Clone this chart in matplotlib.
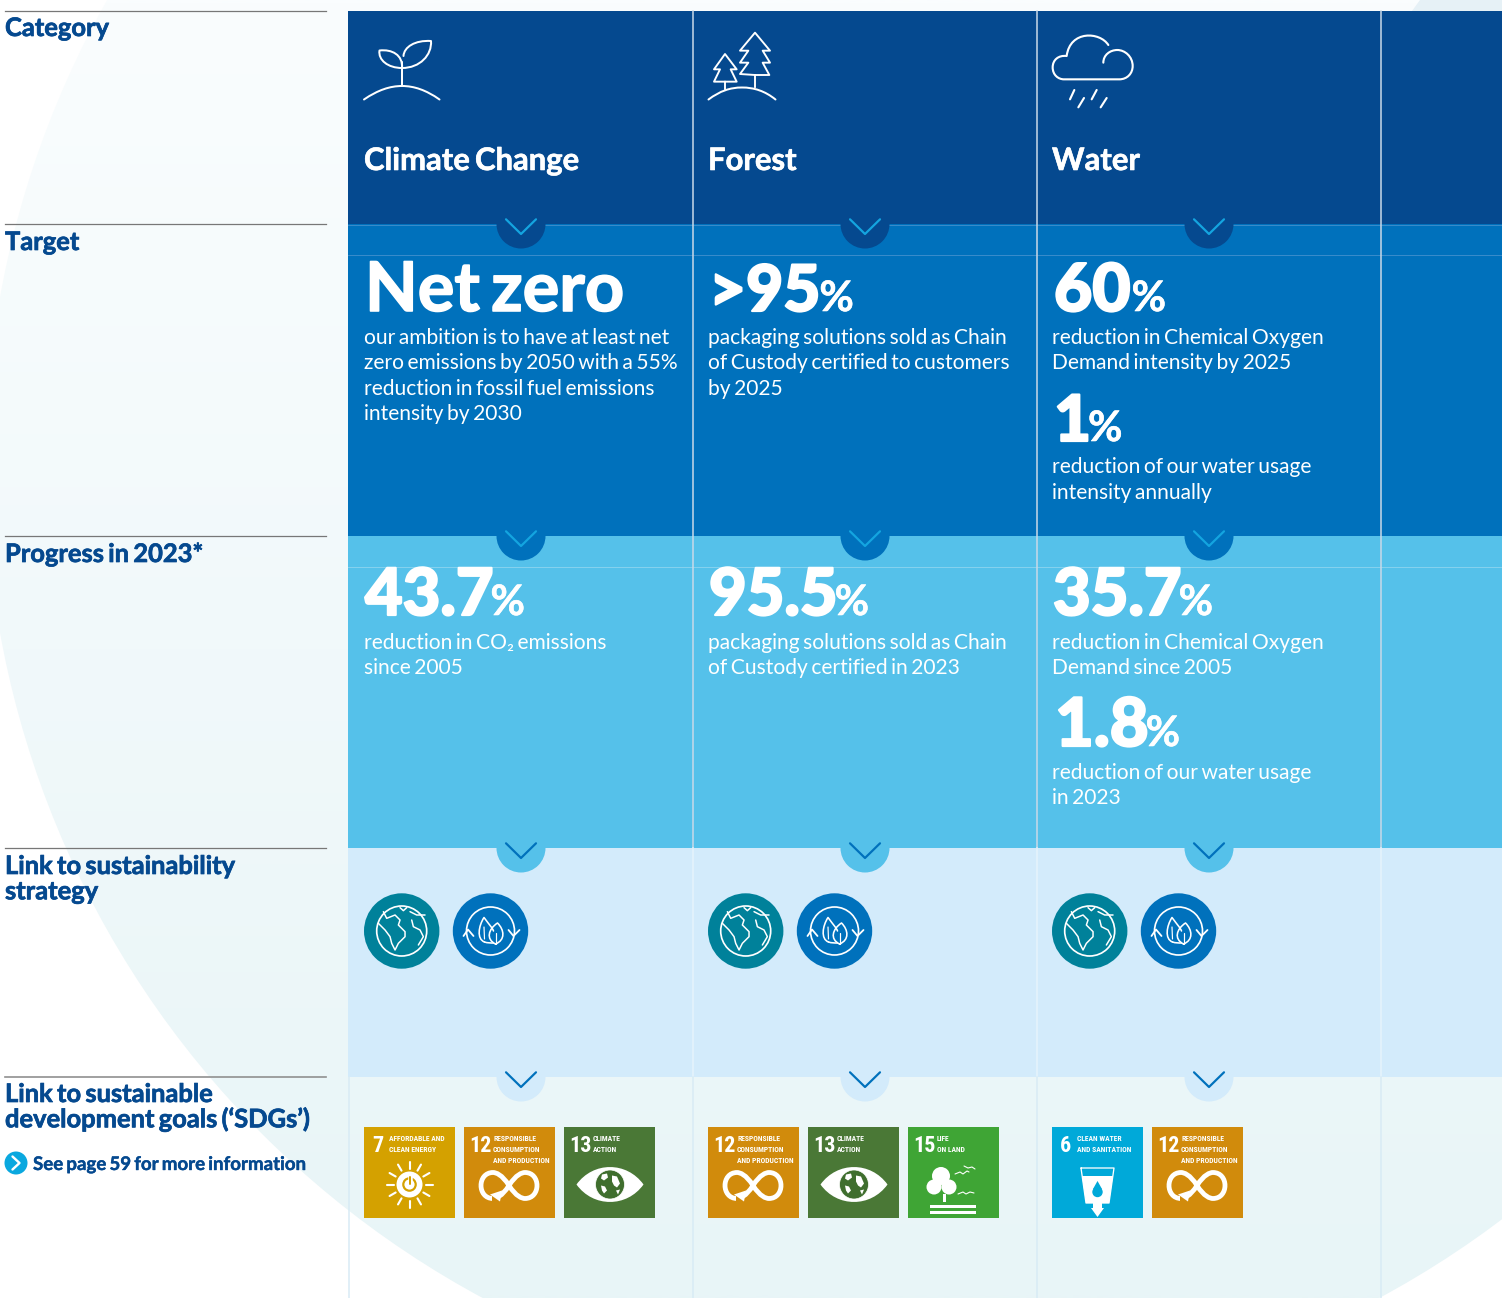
import numpy as np
import matplotlib
matplotlib.use('Agg')
import matplotlib.pyplot as plt
import matplotlib.patheffects as pe
from matplotlib.path import Path
from matplotlib.patches import Circle, PathPatch, Rectangle, Polygon, Wedge

#---CONTENT---
row_labels = ['Category', 'Target', 'Progress in 2023*', 'Link to sustainability\nstrategy', 'Link to sustainable\ndevelopment goals (‘SDGs’)']
see_page = 'See page 59 for more information'
categories = ['Climate Change', 'Forest', 'Water']
target_big = ['Net zero', '>95', '60']
target_text = [['our ambition is to have at least net', 'zero emissions by 2050 with a 55%', 'reduction in fossil fuel emissions', 'intensity by 2030'],
	['packaging solutions sold as Chain', 'of Custody certified to customers', 'by 2025'],
	['reduction in Chemical Oxygen', 'Demand intensity by 2025']]
target2_big = '1'
target2_text = ['reduction of our water usage', 'intensity annually']
progress_big = ['43.7', '95.5', '35.7']
progress_text = [['reduction in CO₂ emissions', 'since 2005'],
	['packaging solutions sold as Chain', 'of Custody certified in 2023'],
	['reduction in Chemical Oxygen', 'Demand since 2005']]
progress2_big = '1.8'
progress2_text = ['reduction of our water usage', 'in 2023']
sdg_numbers = [['7', '12', '13'], ['12', '13', '15'], ['6', '12']]
sdg_names = {'7': ['AFFORDABLE AND', 'CLEAN ENERGY'],
	'12': ['RESPONSIBLE', 'CONSUMPTION', 'AND PRODUCTION'],
	'13': ['CLIMATE', 'ACTION'],
	'15': ['LIFE', 'ON LAND'],
	'6': ['CLEAN WATER', 'AND SANITATION']}

#---COLOURS---
navy = '#05498f'
blue = '#0071bc'
sky = '#55c1ea'
pale = '#d3ebfb'
teal = '#00819a'
sdg_colors = {'7': '#d4a100', '12': '#d18b0c', '13': '#4a7836', '15': '#3fa535', '6': '#00a9d9'}

MAIN = ['Lato', 'Noto Sans', 'DejaVu Sans']
NARROW = ['Roboto Condensed', 'Liberation Sans Narrow', 'Roboto', 'DejaVu Sans']

#---PREPARE FIGURE--- (axes units are image pixels)
fig = plt.figure(figsize=(15.02, 12.98), dpi=100)
ax = fig.add_axes([0, 0, 1, 1])
ax.set_xlim(0, 1502)
ax.set_ylim(1298, 0)
ax.axis('off')

def pts(px):
	return px * 0.72

def tight(s):
	#the report's font sets its words close together, so use a narrow space
	return s.replace(' ', '\u2006')

def heavier(color, px):
	return [pe.withStroke(linewidth=pts(px), foreground=color)]

def stroke(verts, codes=None, color='white', lw=2, z=6, fill=None):
	#draw an icon path, verts are in pixels
	if codes is None:
		codes = [Path.MOVETO] + [Path.LINETO] * (len(verts) - 1)
	patch = PathPatch(Path(verts, codes), facecolor=fill if fill else 'none', edgecolor=color if lw else 'none',
		linewidth=pts(lw), capstyle='round', joinstyle='round', zorder=z)
	ax.add_patch(patch)
	return patch

M, L, C = Path.MOVETO, Path.LINETO, Path.CURVE4
def curve(*segs):
	#segs: first is the start point, then 3 point beziers or single points for a line
	v, c = [segs[0]], [M]
	for s in segs[1:]:
		if isinstance(s[0], tuple):
			v += list(s)
			c += [C, C, C]
		else:
			v.append(s)
			c.append(L)
	return v, c

#---BACKGROUND---
grad = np.linspace(0, 1, 256).reshape(-1, 1)
c0 = np.array(matplotlib.colors.to_rgb('#fafdfe'))
c1 = np.array(matplotlib.colors.to_rgb('#e8f5f7'))
img = c0 + (c1 - c0) * grad[:, :, None]
im = ax.imshow(img, extent=(0, 1502, 1298, 0), aspect='auto', zorder=0, interpolation='bilinear')
big_circle = Circle((931, 465), 946, transform=ax.transData)
im.set_clip_path(big_circle)
ax.set_xlim(0, 1502)
ax.set_ylim(1298, 0)
ax.add_patch(Polygon([(1412, 11), (1420, 0), (1502, 0), (1502, 11)], facecolor='#e6f1f6', edgecolor='none', zorder=0.5))

#---ROW BANDS---
band_y = [11, 224, 536, 848, 1077]
band_colors = [navy, blue, sky, pale]
for i in range(4):
	ax.add_patch(Rectangle((348, band_y[i]), 1502 - 348, band_y[i + 1] - band_y[i], facecolor=band_colors[i], edgecolor='none', zorder=1))

#thin lines inside the bands
ax.plot([348, 1502], [224.5, 224.5], color='#3a8ccb', lw=0.7, zorder=2)
ax.plot([348, 1502], [254.5, 254.5], color='#3a8ccb', lw=0.7, zorder=2)
ax.plot([348, 1502], [566.5, 566.5], color='#86d2ef', lw=0.7, zorder=2)

#column dividers
for x in [692.5, 1036.5, 1380.5]:
	ax.plot([x, x], [11, 848], color='#c9d9e8', lw=1.1, zorder=2)
	ax.plot([x, x], [848, 1077], color='#e6f3fb', lw=1.1, zorder=2)
	ax.plot([x, x], [1077, 1298], color='#d8ebf5', lw=1.1, zorder=2)
ax.plot([348.5, 348.5], [1077, 1298], color='#d8ebf5', lw=1.1, zorder=2)

#chevron bumps
col_x = [364, 708, 1052]
bump_x = [521, 865, 1209]
chev_colors = ['#14a5e0', '#14a5e0', blue, blue]
bump_colors = [navy, blue, sky, pale]
for i, y in enumerate(band_y[1:]):
	for bx in bump_x:
		ax.add_patch(Wedge((bx, y), 24.5, 0, 180, facecolor=bump_colors[i], edgecolor='none', zorder=3))
		stroke([(bx - 15, y - 4.7), (bx, y + 10), (bx + 15, y - 4.7)], color=chev_colors[i], lw=2.2, z=4)

#---LEFT COLUMN---
for i, y in enumerate(band_y):
	ax.plot([5, 326], [y, y], color='#777777' if i < 4 else '#909090', lw=0.9 if i < 4 else 1.2, zorder=3)
label_base = [36, 250, 562, 874, 1102]
for lab, y in zip(row_labels, label_base):
	for k, line in enumerate(lab.split('\n')):
		ax.text(5, y + k * 25.3, tight(line), family=MAIN, weight='bold', fontsize=pts(25.5), color=navy, va='baseline', ha='left', zorder=5,
			path_effects=heavier(navy, 0.7))
ax.add_patch(Circle((16, 1163), 11.5, facecolor='#0aa8df', edgecolor='none', zorder=5))
stroke([(12.5, 1156.5), (19.5, 1163), (12.5, 1169.5)], lw=2.4)
ax.text(33, 1170, tight(see_page), family=MAIN, weight='bold', fontsize=pts(18.7), color=navy, va='baseline', zorder=5,
	path_effects=heavier(navy, 0.4))

#---CATEGORY TITLES AND ICONS---
for x, name in zip(col_x, categories):
	ax.text(x, 170, tight(name), family=MAIN, weight='bold', fontsize=pts(31), color='white', va='baseline', zorder=5,
		path_effects=heavier('white', 0.6))

#sprout
v, c = curve((364, 99.5), ((378, 90), (390, 86), (402, 86)), ((414, 86), (426, 90), (439.5, 99.5)))
stroke(v, c)
stroke([(402, 86), (402, 62)])
v, c = curve((402, 68), ((388, 68), (378, 60), (379.5, 50.5)), ((392, 49), (403, 55), (402, 68)))
stroke(v, c)
v, c = curve((402, 68), ((420, 68), (432, 55), (431, 41)), ((415, 40), (404, 47), (403.5, 56)))
stroke(v, c)

#trees
v, c = curve((708.5, 99.5), ((720, 91), (730, 87.5), (742, 87.5)), ((754, 87.5), (765, 91), (775.5, 99.5)))
stroke(v, c)
big_tree = np.array([(1245, 262), (1245, 225), (1288, 225), (1268, 188), (1290, 188), (1268, 152), (1290, 152), (1245, 98), (1200, 152), (1225, 152), (1200, 188), (1225, 188), (1200, 222), (1245, 225)]) / 3 + [340, 0]
stroke(big_tree, lw=1.9)
small_tree = np.array([(1155, 268), (1155, 245), (1190, 245), (1172, 208), (1190, 208), (1155, 162), (1122, 208), (1140, 208), (1122, 245), (1155, 245)]) / 3 + [340, 0]
stroke(small_tree, lw=1.9)

#cloud
cl = [(205, 75), ((180, 35), (90, 30), (80, 108)), ((55, 105), (38, 120), (38, 142)), ((38, 165), (55, 178), (72, 178)), (238, 178),
	((262, 178), (278, 160), (278, 138)), ((278, 110), (255, 90), (232, 90)), ((210, 90), (190, 105), (190, 128))]
v, c = curve(*cl)
v = np.array(v) / 3 + [1040, 20]
stroke(v, c, lw=2.1)
for a, b in [((103, 210), (90, 238)), ((170, 210), (155, 238)), ((132, 234), (115, 262)), ((200, 234), (182, 262))]:
	stroke(np.array([a, b]) / 3 + [1040, 20], lw=2.1)

#---BIG NUMBERS---
def big_number(x, y, s, size=64, pct_size=42, gap=-3):
	t = ax.text(x, y, s, family=MAIN, weight=900, fontsize=pts(size), color='white', va='baseline', zorder=5,
		path_effects=heavier('white', 2.2))
	box = t.get_window_extent(fig.canvas.get_renderer())
	ax.text(box.x1 + gap, y, '%', family=MAIN, weight='bold', fontsize=pts(pct_size), color='white', va='baseline', zorder=5,
		path_effects=heavier('white', 0.6))

def body(x, ys, lines, size=21):
	for y, line in zip(ys, lines):
		ax.text(x, y, tight(line), family=MAIN, fontsize=pts(size), color='white', va='baseline', zorder=5)

#target row
ax.text(365, 311, tight(target_big[0]), family=MAIN, weight='bold', fontsize=pts(68.5), color='white', va='baseline', zorder=5,
	path_effects=heavier('white', 1.6))
big_number(709, 311, target_big[1], gap=-1)
big_number(1054, 311, target_big[2], size=66, gap=1)
big_number(1054, 441, target2_big)
line_y = [344, 369, 395, 420]
for i in range(3):
	body(col_x[i], line_y, target_text[i])
body(1052, [473, 499], target2_text)

#progress row
for i in range(3):
	big_number(col_x[i] + 1, 615, progress_big[i], size=65)
	body(col_x[i], [649, 674], progress_text[i])
big_number(1055, 746, progress2_big, size=67)
body(1052, [779, 804], progress2_text)

#---STRATEGY BADGES---
def globe_badge(cx, cy=931):
	ax.add_patch(Circle((cx, cy), 37.7, facecolor=teal, edgecolor='none', zorder=5))
	ax.add_patch(Circle((cx, cy), 25, facecolor='none', edgecolor='white', linewidth=pts(1.7), zorder=6))
	shapes = [[(100, 215), (110, 235), (135, 225), (150, 240), (145, 255), (165, 275), (165, 290), (145, 310), (135, 330), (125, 310), (120, 290), (105, 270), (85, 250)],
		[(185, 240), (190, 260), (210, 270), (220, 290), (205, 315)],
		[(180, 215), (200, 225), (225, 225)],
		[(150, 203), (160, 212), (170, 203)]]
	for s in shapes:
		stroke((np.array(s) - [155, 273]) / 3 + [cx, cy], lw=1.5)

def leaf_badge(cx, cy=931):
	ax.add_patch(Circle((cx, cy), 37.7, facecolor=blue, edgecolor='none', zorder=5))
	ax.add_patch(Circle((cx, cy), 24, facecolor='none', edgecolor='white', linewidth=pts(1.7), zorder=6))
	for s in [[(-27, 5), (-22.5, -1.5), (-17, 5)], [(18, -1), (23, 5), (29, -1)]]:
		stroke(np.array(s) + [cx, cy], lw=1.8)
	v, c = curve((-6, 11), ((-14, 8), (-12, -5), (-6.5, -13.5)), ((-1, -6), (2, -3), (3, 0)))
	stroke(np.array(v) + [cx, cy], c, lw=1.6)
	v, c = curve((-6, 11), ((-3, 12), (0, 12), (3, 12)))
	stroke(np.array(v) + [cx, cy], c, lw=1.6)
	v, c = curve((5, 13), ((-5, 8), (-2, -2), (7, -8)), ((14, -1), (15, 9), (5, 13)))
	stroke(np.array(v) + [cx, cy], c, lw=1.6)
	stroke([(cx + 5, cy + 13), (cx + 5, cy + 2)], lw=1.2)
	stroke([(cx - 6, cy + 8), (cx - 6.5, cy - 4)], lw=1.2)

for x in col_x:
	globe_badge(x + 37.7)
	leaf_badge(x + 126.5)

#---SDG TILES---
def infinity(cx, cy):
	for sgn in [-1, 1]:
		v, c = curve((cx, cy), ((cx + sgn * 7, cy - 11), (cx + sgn * 13, cy - 13), (cx + sgn * 16, cy - 13)),
			((cx + sgn * 32, cy - 13), (cx + sgn * 32, cy + 13), (cx + sgn * 16, cy + 13)),
			((cx + sgn * 13, cy + 13), (cx + sgn * 7, cy + 11), (cx, cy)))
		stroke(v, c, lw=4.8, z=7)
	ax.add_patch(Rectangle((cx - 17, cy + 8), 6, 8, facecolor=sdg_colors['12'], edgecolor='none', zorder=7.5))
	ax.add_patch(Polygon([(cx - 19, cy + 9), (cx - 7, cy + 5), (cx - 9, cy + 16)], facecolor='white', edgecolor='none', zorder=8))

def sun(cx, cy):
	for a in np.deg2rad(np.arange(0, 360, 30)):
		stroke([(cx + 16 * np.cos(a), cy + 16 * np.sin(a)), (cx + 23 * np.cos(a), cy + 23 * np.sin(a))], lw=2.1, z=7)
	ax.add_patch(Circle((cx, cy), 13, facecolor='white', edgecolor='none', zorder=7))
	ax.add_patch(Circle((cx, cy), 6.2, facecolor='none', edgecolor=sdg_colors['7'], linewidth=pts(2.2), zorder=8))
	stroke([(cx, cy - 9), (cx, cy - 1)], color='white', lw=4.5, z=8)
	stroke([(cx, cy - 8), (cx, cy - 1)], color=sdg_colors['7'], lw=2, z=9)

def eye(cx, cy):
	w, h = 33.5, 17.5
	v, c = curve((cx - w, cy), ((cx - w * 0.5, cy - h * 1.33), (cx + w * 0.5, cy - h * 1.33), (cx + w, cy)),
		((cx + w * 0.5, cy + h * 1.33), (cx - w * 0.5, cy + h * 1.33), (cx - w, cy)))
	stroke(v, c, lw=0, fill='white', z=7)
	ax.add_patch(Circle((cx, cy), 14.5, facecolor='#3f6e2e', edgecolor='white', linewidth=0.5, zorder=8))
	for blob in [[(-8, -10), (-3, -11), (-2, -7), (-6, -4), (-9, -6)], [(-9, 1), (-5, 2), (-3, 6), (-6, 9), (-8, 6)],
		[(2, -9), (7, -8), (10, -1), (7, 3), (4, 1), (2, -3)], [(6, 6), (10, 5), (8, 10)]]:
		ax.add_patch(Polygon(np.array(blob) + [cx, cy], facecolor='white', edgecolor='none', zorder=9))

def tree(tx, cy):
	for (dx, dy, r) in [(33, 49, 9), (26, 60, 7.5), (41, 60, 7.5)]:
		ax.add_patch(Circle((tx + dx, cy + dy), r, facecolor='white', edgecolor='none', zorder=7))
	ax.add_patch(Rectangle((tx + 35, cy + 67), 3.2, 8, facecolor='white', edgecolor='none', zorder=7))
	for dy in [79, 85]:
		ax.add_patch(Rectangle((tx + 22, cy + dy - 1.5), 46, 3, facecolor='white', edgecolor='none', zorder=7))
	for b in [[(47, 47), (52, 45), (55, 47), (59, 44), (61, 45)], [(56, 39), (60, 41), (64, 40), (67, 42)], [(50, 67), (55, 65), (58, 67), (62, 65), (66, 66)]]:
		stroke(np.array(b) + [tx, cy], lw=1.1, z=7)

def cup(tx, cy):
	stroke([(tx + 29, cy + 41), (tx + 62, cy + 41), (tx + 57, cy + 76), (tx + 34, cy + 76), (tx + 29, cy + 41)], lw=1.3, z=7)
	ax.add_patch(Polygon([(tx + 30, cy + 49), (tx + 61, cy + 49), (tx + 57, cy + 76), (tx + 34, cy + 76)], facecolor='white', edgecolor='none', zorder=7))
	ax.add_patch(Polygon([(tx + 41, cy + 76), (tx + 50, cy + 76), (tx + 50, cy + 81), (tx + 52, cy + 81), (tx + 45.5, cy + 90), (tx + 39, cy + 81), (tx + 41, cy + 81)], facecolor='white', edgecolor='none', zorder=7))
	ax.add_patch(Circle((tx + 45.5, cy + 65), 5.2, facecolor=sdg_colors['6'], edgecolor='none', zorder=8))
	ax.add_patch(Polygon([(tx + 41, cy + 62), (tx + 45.5, cy + 54), (tx + 50, cy + 62)], facecolor=sdg_colors['6'], edgecolor='none', zorder=8))

tile_gap = 100
tile_y = 1127
for i, nums in enumerate(sdg_numbers):
	for j, n in enumerate(nums):
		tx = col_x[i] + j * tile_gap
		ax.add_patch(Rectangle((tx, tile_y), 91, 91, facecolor=sdg_colors[n], edgecolor='none', zorder=5))
		ax.text(tx + 5 if len(n) > 1 else tx + 8, tile_y + 25, n, family=NARROW, weight='bold', fontsize=pts(22), color='white', va='baseline', zorder=7)
		name_x = tx + (25 if n in ['7', '6'] else 29)
		for k, line in enumerate(sdg_names[n]):
			ax.text(name_x, tile_y + 14 + k * 10.8, line, family=NARROW, weight='bold', fontsize=pts(7.6), color='white', va='baseline', zorder=7)
		if n == '7':
			sun(tx + 45.5, tile_y + 57.5)
		elif n == '12':
			infinity(tx + 45, tile_y + 58.5)
		elif n == '13':
			eye(tx + 46, tile_y + 57.5)
		elif n == '15':
			tree(tx, tile_y)
		elif n == '6':
			cup(tx, tile_y)

#---SAVE---
plt.savefig('out.png', dpi=100)
